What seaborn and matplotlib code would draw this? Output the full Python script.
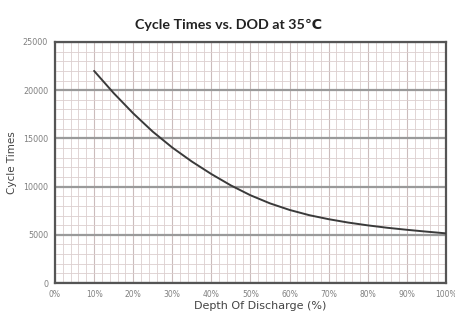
import pandas as pd
import matplotlib
matplotlib.use("Agg")
import matplotlib.pyplot as plt
import seaborn as sns
from matplotlib.ticker import MultipleLocator

# values
dod = [10, 15, 20, 25, 30, 35, 40, 45, 50, 55, 60, 65, 70, 75, 80, 85, 90, 95, 100]
cycles = [22000, 19700, 17600, 15700, 14050, 12600, 11300, 10120, 9100, 8260,
          7580, 7040, 6620, 6270, 5980, 5730, 5520, 5330, 5150]

x_ticks = [0, 10, 20, 30, 40, 50, 60, 70, 80, 90, 100]
x_tick_labels = ['0%', '10%', '20%', '30%', '40%', '50%', '60%', '70%', '80%', '90%', '100%']
y_ticks = [0, 5000, 10000, 15000, 20000, 25000]


def main():
    sns.set_theme(style="white")
    plt.rcParams['font.family'] = ['DejaVu Sans']

    df = pd.DataFrame({'DOD': dod, 'Cycles': cycles})

    fig = plt.figure(figsize=(4.56, 3.18), dpi=100)
    ax = fig.add_axes([0.1206, 0.110, 0.8574, 0.758])

    sns.lineplot(data=df, x='DOD', y='Cycles', ax=ax, color='#3a3a3a', linewidth=1.4, zorder=5)

    ax.set_xlim(0, 100)
    ax.set_ylim(0, 25000)
    ax.set_xticks(x_ticks)
    ax.set_xticklabels(x_tick_labels)
    ax.set_yticks(y_ticks)
    ax.xaxis.set_minor_locator(MultipleLocator(2))
    ax.yaxis.set_minor_locator(MultipleLocator(1000))

    ax.grid(which='minor', color='#dccfcf', linewidth=0.6)
    ax.grid(which='major', axis='x', color='#cbbcbc', linewidth=0.8)
    ax.grid(which='major', axis='y', color='#9a9a9a', linewidth=1.6)
    ax.set_axisbelow(True)

    for s in ax.spines.values():
        s.set_color('#555555')
        s.set_linewidth(1.6)

    ax.tick_params(axis='x', which='major', direction='in', length=2.5, width=1,
                   color='#555555', labelsize=5.5, labelcolor='#808080', pad=5)
    ax.tick_params(axis='y', which='major', length=0, labelsize=5.8,
                   labelcolor='#808080', pad=5)
    ax.tick_params(which='minor', length=0)

    ax.set_xlabel('Depth Of Discharge (%)', fontsize=8, color='#444444', labelpad=3)
    ax.xaxis.set_label_coords(0.525, -0.075)
    ax.set_ylabel('Cycle Times', fontsize=7.5, color='#444444', labelpad=4)
    ax.set_title('Cycle Times vs. DOD at 35\u2103', fontsize=10.3, fontweight='bold',
                 color='#222222', pad=9, x=0.445, family=['Lato', 'DejaVu Sans'])

    plt.savefig('out.png', dpi=100)
    plt.close()


if __name__ == '__main__':
    main()
